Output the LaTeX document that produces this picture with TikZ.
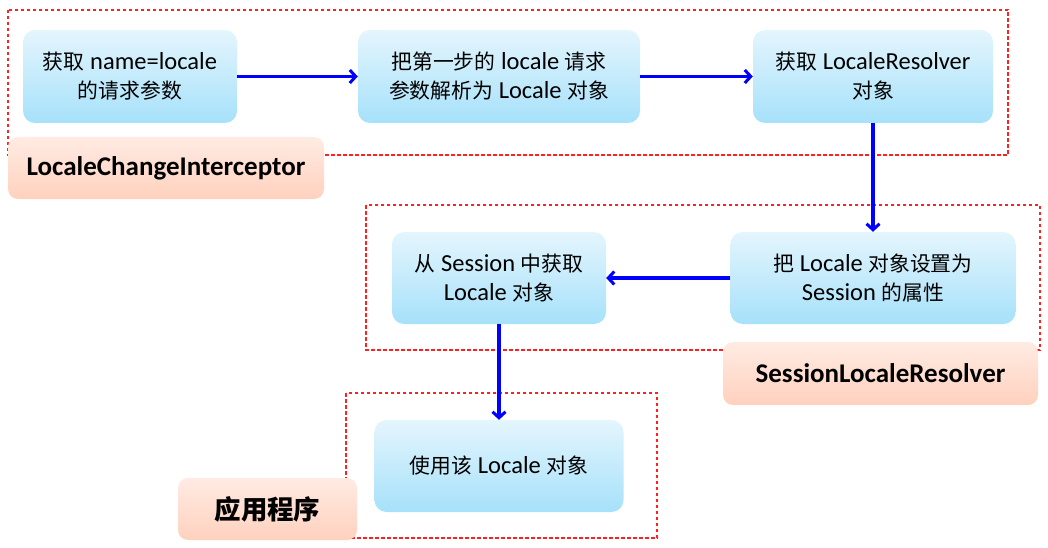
\documentclass[tikz,border=0pt]{standalone}
\usepackage{fontspec}
\setmainfont{Carlito}
\newfontfamily\cjk{Noto Sans CJK SC}[Scale=0.85]
\newfontfamily\cjkb{Noto Sans CJK SC}[Scale=0.98]
\usetikzlibrary{arrows.meta,shadings}
\newcommand{\zh}[1]{{\cjk #1}}
\newcommand{\labdown}[1]{\raisebox{-3pt}{#1}}
\definecolor{boxtop}{HTML}{E4F5FD}
\definecolor{boxbot}{HTML}{A6E1FA}
\definecolor{labtop}{HTML}{FFEBE3}
\definecolor{labbot}{HTML}{FFD1BE}
\definecolor{arrowblue}{HTML}{0000FF}
\definecolor{dashred}{HTML}{FF2020}
\tikzset{
  stepbox/.style={rounded corners=12pt, top color=boxtop, bottom color=boxbot, draw=none,
    align=center, inner sep=0pt, font=\fontsize{24.5}{29}\selectfont},
  labelbox/.style={rounded corners=10pt, top color=labtop, bottom color=labbot, draw=none,
    align=center, inner sep=0pt, font=\fontsize{27}{30}\selectfont\bfseries},
  flow/.style={draw=arrowblue, line width=3.2pt, -{Straight Barb[length=6pt,width=13pt,line width=3pt]}},
  group/.style={draw=dashred, line width=1.2pt, dash pattern=on 3.5pt off 2.5pt}
}
\begin{document}
\begin{tikzpicture}[x=1pt,y=-1pt]
\path[use as bounding box] (0,0) rectangle (1048,548);
% groups
\coordinate (g1a) at (8,10); \coordinate (g1b) at (1008,155);
\coordinate (g2a) at (366,205); \coordinate (g2b) at (1040,350);
\coordinate (g3a) at (346,393); \coordinate (g3b) at (657,538);
\draw[group] (g1a) rectangle (g1b);
\draw[group] (g2a) rectangle (g2b);
\draw[group] (g3a) rectangle (g3b);
% steps
\node[stepbox, minimum width=214pt, minimum height=93pt] (A) at (130,76.5)
  {\zh{获取} name=locale\\\zh{的请求参数}};
\node[stepbox, minimum width=282pt, minimum height=93pt] (B) at (499,76.5)
  {\zh{把第一步的} locale \zh{请求}\\\zh{参数解析为} Locale \zh{对象}};
\node[stepbox, minimum width=240pt, minimum height=93pt] (C) at (873,76.5)
  {\zh{获取} LocaleResolver\\\zh{对象}};
\node[stepbox, minimum width=285pt, minimum height=92pt] (D) at (873,278)
  {\zh{把} Locale \zh{对象设置为}\\Session \zh{的属性}};
\node[stepbox, minimum width=214pt, minimum height=92pt] (E) at (499,278)
  {\zh{从} Session \zh{中获取}\\Locale \zh{对象}};
\node[stepbox, minimum width=249pt, minimum height=92pt] (F) at (499,466)
  {\zh{使用该} Locale \zh{对象}};
% labels
\node[labelbox, minimum width=316pt, minimum height=62pt] (L1) at (166,168) {\labdown{LocaleChangeInterceptor}};
\node[labelbox, minimum width=315pt, minimum height=63pt] (L2) at (880.5,373.5) {\labdown{SessionLocaleResolver}};
\node[labelbox, minimum width=179pt, minimum height=62pt] (L3) at (267.5,509) {\labdown{\cjkb\bfseries 应用程序}};
% arrows
\draw[flow] (A.east) -- (B.west);
\draw[flow] (B.east) -- (C.west);
\draw[flow] (C.south) -- (D.north);
\draw[flow] (D.west) -- (E.east);
\draw[flow] (E.south) -- (F.north);
\end{tikzpicture}
\end{document}
